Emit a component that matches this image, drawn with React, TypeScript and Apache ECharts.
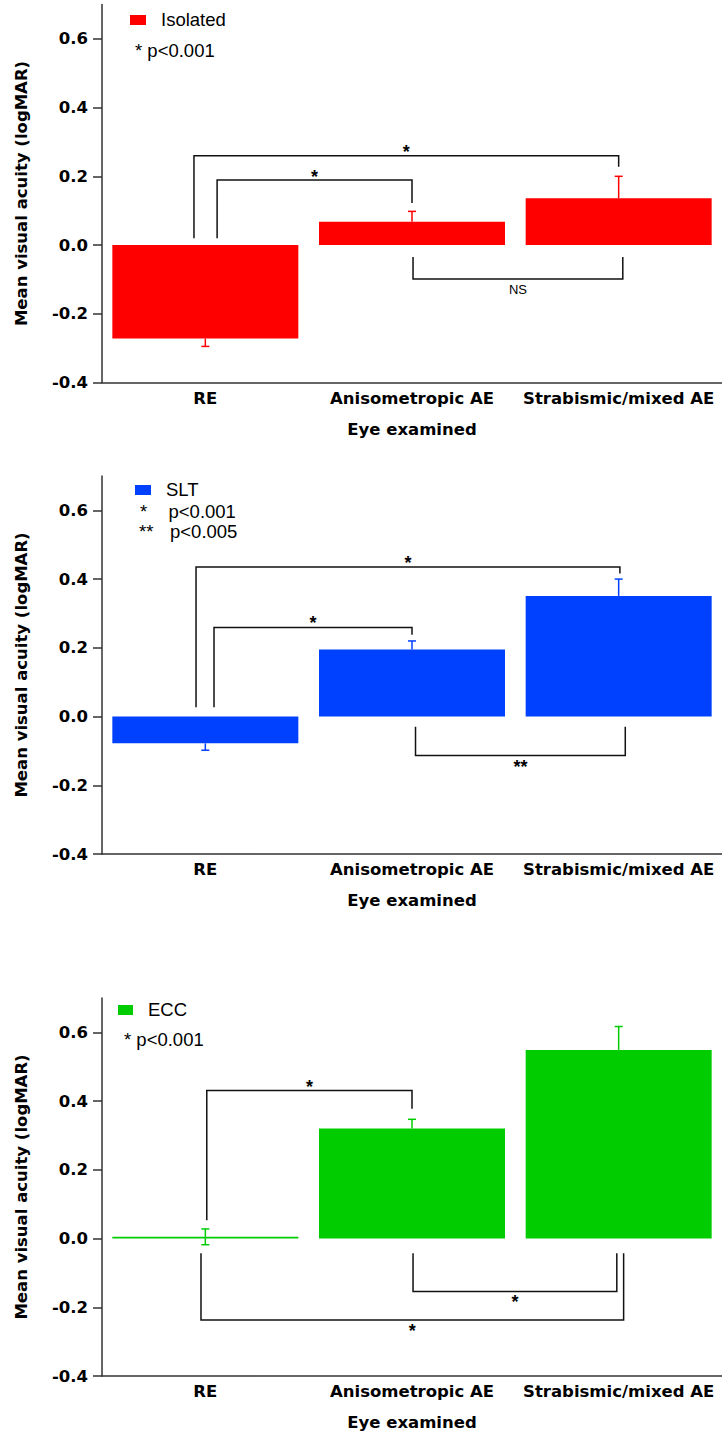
import React, { useEffect, useRef } from "react";
import * as echarts from "echarts";

const categories = ["RE", "Anisometropic AE", "Strabismic/mixed AE"];
const yTicks = [-0.4, -0.2, 0, 0.2, 0.4, 0.6];

const isolatedMeans = [-0.272, 0.068, 0.136];
const isolatedSE = [0.023, 0.03, 0.064];
const sltMeans = [-0.078, 0.195, 0.351];
const sltSE = [0.02, 0.025, 0.049];
const eccMeans = [0.005, 0.32, 0.549];
const eccSE = [0.023, 0.027, 0.068];

// bracket: [xStart (category units), xEnd, yLine, yLegStart, yLegEnd, label, labelY]
type Bracket = [number, number, number, number, number, string, number];
const isolatedBrackets: Bracket[] = [
  [-0.055, 2.0, 0.26, 0.02, 0.228, "*", 0.282],
  [0.057, 1.0, 0.189, 0.02, 0.122, "*", 0.21],
  [1.005, 2.02, -0.099, -0.035, -0.035, "NS", -0.128],
];
const sltBrackets: Bracket[] = [
  [-0.045, 2.006, 0.435, 0.027, 0.416, "*", 0.459],
  [0.042, 1.0, 0.259, 0.027, 0.238, "*", 0.283],
  [1.017, 2.032, -0.113, -0.03, -0.03, "**", -0.136],
];
const eccBrackets: Bracket[] = [
  [0.007, 1.0, 0.431, 0.053, 0.378, "*", 0.452],
  [1.005, 1.991, -0.154, -0.043, -0.043, "*", -0.174],
  [-0.021, 2.024, -0.237, -0.043, -0.043, "*", -0.257],
];

const RED = "#ff0000";
const BLUE = "#0040ff";
const GREEN = "#00cc00";
const AXIS_COLOR = "#333333";
const BOLD_FONT = "DejaVu Sans";
const REG_FONT = "Liberation Sans";
const AXIS_FONT_SIZE = 16.5;

const panels = [
  { top: 4.5, means: isolatedMeans, se: isolatedSE, brackets: isolatedBrackets, color: RED },
  { top: 476, means: sltMeans, se: sltSE, brackets: sltBrackets, color: BLUE },
  { top: 998, means: eccMeans, se: eccSE, brackets: eccBrackets, color: GREEN },
];

function buildOption() {
  const grid: any[] = [];
  const xAxis: any[] = [];
  const yAxis: any[] = [];
  const series: any[] = [];

  panels.forEach((p, k) => {
    grid.push({ left: 102, width: 620, top: p.top, height: 378 });
    xAxis.push({
      type: "category",
      gridIndex: k,
      data: categories,
      name: "Eye examined",
      nameLocation: "middle",
      nameGap: 38,
      nameTextStyle: { fontFamily: BOLD_FONT, fontWeight: "bold", fontSize: AXIS_FONT_SIZE, color: "#000" },
      axisLine: { onZero: false, lineStyle: { color: AXIS_COLOR, width: 1.5 } },
      axisTick: { length: 10, lineStyle: { color: AXIS_COLOR, width: 1.5 } },
      axisLabel: { interval: 0, margin: 7, fontFamily: BOLD_FONT, fontWeight: "bold", fontSize: AXIS_FONT_SIZE, color: "#000" },
      splitLine: { show: false },
    });
    yAxis.push({
      type: "value",
      gridIndex: k,
      min: -0.4,
      max: 0.7,
      interval: 0.2,
      name: "Mean visual acuity (logMAR)",
      nameLocation: "middle",
      nameGap: 72,
      nameTextStyle: { fontFamily: BOLD_FONT, fontWeight: "bold", fontSize: AXIS_FONT_SIZE, color: "#000" },
      axisLine: { show: true, lineStyle: { color: AXIS_COLOR, width: 1.5 } },
      axisTick: { show: true, length: 9, customValues: yTicks, lineStyle: { color: AXIS_COLOR, width: 1.5 } },
      axisLabel: {
        customValues: yTicks,
        margin: 14,
        formatter: (v: number) => v.toFixed(1),
        fontFamily: BOLD_FONT,
        fontWeight: "bold",
        fontSize: AXIS_FONT_SIZE,
        color: "#000",
      },
      splitLine: { show: false },
    });

    series.push({
      type: "bar",
      xAxisIndex: k,
      yAxisIndex: k,
      data: p.means,
      barCategoryGap: "10%",
      itemStyle: { color: p.color },
      silent: true,
    });

    const color = p.color;
    series.push({
      type: "custom",
      xAxisIndex: k,
      yAxisIndex: k,
      silent: true,
      data: p.means.map((m, i) => [i, m, p.se[i]]),
      renderItem: (params: any, api: any) => {
        const i = api.value(0);
        const m = api.value(1);
        const se = api.value(2);
        let lo: number, hi: number;
        if (Math.abs(m) < se) {
          lo = m - se;
          hi = m + se;
        } else if (m > 0) {
          lo = m;
          hi = m + se;
        } else {
          lo = m - se;
          hi = m;
        }
        const x = api.coord([i, m])[0];
        const pHi = api.coord([i, hi])[1];
        const pLo = api.coord([i, lo])[1];
        const st = { stroke: color, lineWidth: 1.5 };
        const children: any[] = [
          { type: "line", shape: { x1: x, y1: pLo, x2: x, y2: pHi }, style: st },
        ];
        if (hi !== m) children.push({ type: "line", shape: { x1: x - 4, y1: pHi, x2: x + 4, y2: pHi }, style: st });
        if (lo !== m) children.push({ type: "line", shape: { x1: x - 4, y1: pLo, x2: x + 4, y2: pLo }, style: st });
        return { type: "group", children };
      },
      z: 3,
    });

    const brackets = p.brackets;
    series.push({
      type: "custom",
      xAxisIndex: k,
      yAxisIndex: k,
      silent: true,
      data: brackets.map((b) => [0, b[2]]),
      renderItem: (params: any, api: any) => {
        const b = brackets[params.dataIndex];
        const c0 = api.coord([0, 0]);
        const bw = api.size([1, 0])[0];
        const px = (v: number) => c0[0] + v * bw;
        const py = (v: number) => api.coord([0, v])[1];
        const x1 = px(b[0]);
        const x2 = px(b[1]);
        const yl = py(b[2]);
        const ys = py(b[3]);
        const ye = py(b[4]);
        const isNS = b[5] === "NS";
        return {
          type: "group",
          children: [
            {
              type: "polyline",
              shape: { points: [[x1, ys], [x1, yl], [x2, yl], [x2, ye]] },
              style: { stroke: "#111", lineWidth: 1.5, fill: null },
            },
            {
              type: "text",
              x: (x1 + x2) / 2,
              y: py(b[6]) + (isNS ? 0 : 4),
              style: {
                text: b[5],
                fill: "#000",
                font: isNS ? `13px ${REG_FONT}` : `bold 18px ${REG_FONT}`,
                align: "center",
                verticalAlign: "middle",
              },
            },
          ],
        };
      },
      z: 4,
    });
  });

  const txt = (text: string, x: number, y: number) => ({
    type: "text",
    x,
    y,
    style: { text, fill: "#000", font: `18.5px ${REG_FONT}`, verticalAlign: "middle" },
  });

  const graphic: any[] = [
    { type: "rect", shape: { x: 130, y: 15, width: 16, height: 10 }, style: { fill: RED } },
    txt("Isolated", 161, 19),
    txt("* p<0.001", 135, 50),
    { type: "rect", shape: { x: 135, y: 485, width: 16, height: 10 }, style: { fill: BLUE } },
    txt("SLT", 166, 489),
    txt("*", 140, 511),
    txt("p<0.001", 168.5, 511),
    txt("**", 139, 531.5),
    txt("p<0.005", 170, 531.5),
    { type: "rect", shape: { x: 118, y: 1005, width: 15, height: 10 }, style: { fill: GREEN } },
    txt("ECC", 148, 1009),
    txt("* p<0.001", 124, 1039),
  ];

  return {
    animation: false,
    backgroundColor: "#ffffff",
    grid,
    xAxis,
    yAxis,
    series,
    graphic,
  };
}

export default function App() {
  const ref = useRef<HTMLDivElement>(null);
  useEffect(() => {
    if (!ref.current) return;
    const chart = echarts.init(ref.current, undefined, { renderer: "svg" });
    chart.setOption(buildOption() as any);
    return () => chart.dispose();
  }, []);
  return (
    <div
      ref={ref}
      style={{ position: "absolute", left: 0, top: 0, width: 722, height: 1436, background: "#fff" }}
    />
  );
}
